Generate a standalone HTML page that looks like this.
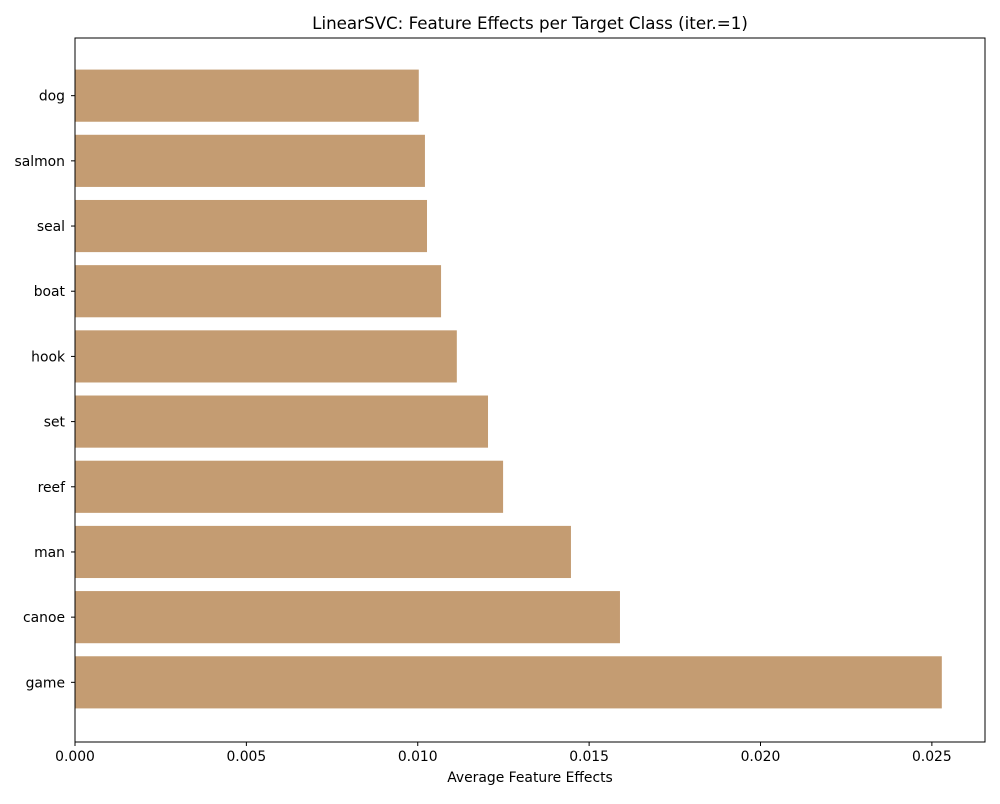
<!DOCTYPE html>
<html><head><meta charset="utf-8"><style>
body{margin:0;background:#fff;font-family:"DejaVu Sans","Liberation Sans",sans-serif;}
</style></head><body>
<svg id="chart" width="1000" height="800" font-family="DejaVu Sans, Liberation Sans, sans-serif"></svg>
<script>
const categories=["dog","salmon","seal","boat","hook","set","reef","man","canoe","game"];
const values=[0.01003,0.01021,0.01027,0.01068,0.01114,0.01205,0.01249,0.01447,0.0159,0.02529];
const xTicks=[0,0.005,0.010,0.015,0.020,0.025];
const xTickLabels=["0.000","0.005","0.010","0.015","0.020","0.025"];
const NS="http://www.w3.org/2000/svg";
const svg=document.getElementById('chart');
const L=75,R=985,T=38,B=742;
const xMax=0.02655;
function x(v){return L+v/xMax*(R-L);}
const band=(B-T)/(categories.length+0.8);
function yc(i){return T-1+band*0.9+i*band;}
function mk(t,a,txt){const e=document.createElementNS(NS,t);for(const k in a)e.setAttribute(k,a[k]);if(txt!==undefined)e.textContent=txt;svg.appendChild(e);return e;}
categories.forEach((c,i)=>{
 const r=mk('rect',{x:L,y:yc(i)-band*0.4,width:x(values[i])-L,height:band*0.8,fill:'#c49c72'});
 
 
 const t=mk('text',{x:L-10,y:yc(i)+5,'text-anchor':'end','font-size':13.9,fill:'#000'},c);
 
 
 mk('line',{x1:L-4,x2:L,y1:yc(i),y2:yc(i),stroke:'#000'});
});
xTicks.forEach((v,i)=>{
 mk('line',{x1:x(v),x2:x(v),y1:B,y2:B+4,stroke:'#000'});
 const t=mk('text',{x:x(v),y:B+19,'text-anchor':'middle','font-size':13.9},xTickLabels[i]);
 
 
});
const f=mk('rect',{x:L,y:T,width:R-L,height:B-T,fill:'none',stroke:'#000','stroke-width':1});


const ti=mk('text',{x:(L+R)/2,y:29,'text-anchor':'middle','font-size':16.7},'LinearSVC: Feature Effects per Target Class (iter.=1)');


const xl=mk('text',{x:(L+R)/2,y:782,'text-anchor':'middle','font-size':13.9},'Average Feature Effects');


</script>
</body></html>
